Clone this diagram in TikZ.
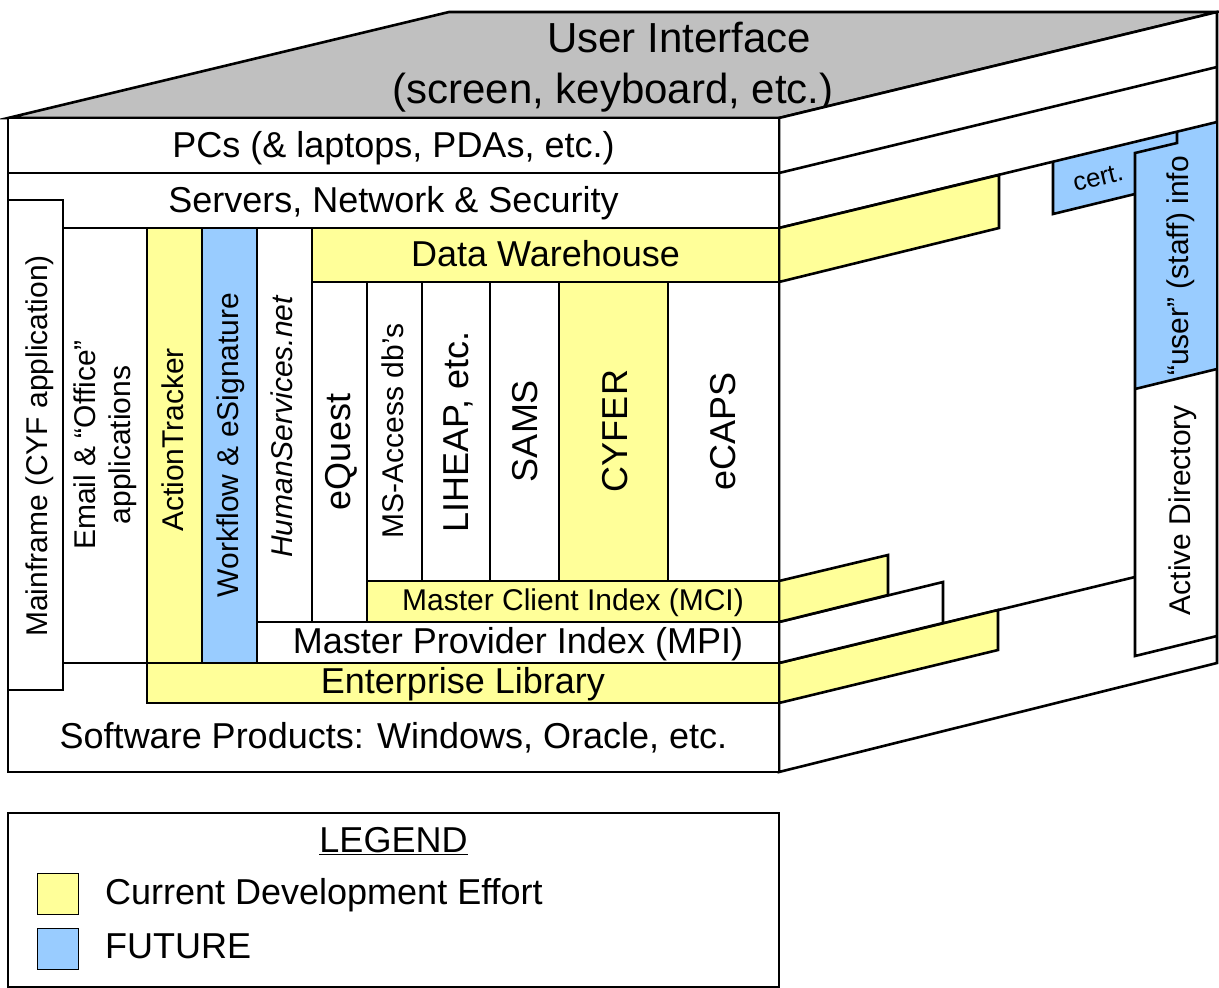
\documentclass[tikz,border=0pt]{standalone}
\usepackage{fontspec}
\setmainfont{Liberation Sans}
\definecolor{yel}{HTML}{FFFF99}
\definecolor{blu}{HTML}{99CCFF}
\definecolor{gry}{HTML}{C0C0C0}
\begin{document}
\begin{tikzpicture}[x=1pt,y=-1pt,
  ln/.style={line width=2.6pt, line join=miter},
  big/.style={font=\fontsize{36}{43}\selectfont, inner sep=0pt, anchor=base},
  mid/.style={font=\fontsize{30}{36}\selectfont, inner sep=0pt, anchor=base},
  vt/.style={font=\fontsize{30}{36}\selectfont, inner sep=0pt, rotate=90, anchor=base},
  vtb/.style={font=\fontsize{36}{43}\selectfont, inner sep=0pt, rotate=90, anchor=base},
  swatch/.style={line width=1pt}
]
\useasboundingbox (0,0) rectangle (1219,988);

% ---------- top face ----------
\draw[ln, fill=gry] (8,118) -- (449,12) -- (1217,12) -- (779,118) -- cycle;
\node[font=\fontsize{42}{50}\selectfont, inner sep=0pt, anchor=base] (ui1) at (679,52) {User Interface};
\node[font=\fontsize{42}{50}\selectfont, inner sep=0pt, anchor=base] (ui2) at (613,103) {(screen, keyboard, etc.)};

% ---------- side face ----------
\draw[ln, fill=white] (779,118) -- (1217,12) -- (1217,663) -- (779,772) -- cycle;
\draw[ln] (779,173) -- (1217,67);
\fill[blu] (1053,161) -- (1217,122) -- (1217,369) -- (1135,389) -- (1135,194) -- (1053,214) -- cycle;
\draw[ln] (779,228) -- (1217,122);
\draw[ln] (1053,161) -- (1053,214) -- (1135,194);
\draw[ln] (1177,131) -- (1177,143) -- (1135,153) -- (1135,656) -- (1217,636);
\draw[ln] (1135,389) -- (1217,369);
\draw[ln] (1217,12) -- (1217,663);
\draw[ln, fill=yel] (779,228) -- (999,175) -- (999,228) -- (779,282) -- cycle;
\draw[ln] (779,663) -- (1135,577);
\draw[ln, fill=yel] (779,663) -- (998,610) -- (998,650) -- (779,703) -- cycle;
\draw[ln, fill=white] (779,622) -- (943,582) -- (943,623) -- (779,663) -- cycle;
\draw[ln, fill=yel] (779,581) -- (888,555) -- (888,595) -- (779,622) -- cycle;

\node[font=\fontsize{26}{30}\selectfont, inner sep=0pt, rotate=13.6] (cert) at (1098,178) {cert.};
\node[vt] (user) at (1188,266) {“user” (staff) info};
\node[vt] (ad) at (1190,510) {Active Directory};

% ---------- front face ----------
\draw[ln, fill=white] (8,118) rectangle (779,772);
\draw[ln] (8,173) -- (779,173);
\draw[ln] (8,228) -- (779,228);
\draw[ln, fill=yel] (312,228) rectangle (779,282);
\draw[ln, fill=yel] (147,228) rectangle (202,663);
\draw[ln, fill=blu] (202,228) rectangle (257,663);
\draw[ln, fill=white] (257,228) rectangle (312,622);
\draw[ln, fill=white] (312,282) rectangle (367,622);
\draw[ln, fill=white] (367,282) rectangle (422,581);
\draw[ln, fill=white] (422,282) rectangle (490,581);
\draw[ln, fill=white] (490,282) rectangle (559,581);
\draw[ln, fill=yel] (559,282) rectangle (668,581);
\draw[ln, fill=white] (668,282) rectangle (779,581);
\draw[ln, fill=yel] (367,581) rectangle (779,622);
\draw[ln, fill=white] (257,622) rectangle (779,663);
\draw[ln, fill=yel] (147,663) rectangle (779,703);
\draw[ln] (63,663) -- (147,663);
\draw[ln, fill=white] (8,200) rectangle (63,690);

\node[big] (pcs) at (393.5,157) {PCs (\& laptops, PDAs, etc.)};
\node[big] (srv) at (393.5,212) {Servers, Network \& Security};
\node[big] (dw) at (545.5,266) {Data Warehouse};
\node[mid] (mci) at (573,610) {Master Client Index (MCI)};
\node[big] (mpi) at (518,653) {Master Provider Index (MPI)};
\node[big] (el) at (463,693) {Enterprise Library};
\node[big] (sw) at (393.5,748) {Software Products: Windows, Oracle, etc.};

\node[vt] (mf) at (47,446) {Mainframe (CYF application)};
\node[font=\fontsize{30}{35}\selectfont, inner sep=0pt, rotate=90, align=center] (email) at (105,445) {Email \& “Office”\\applications};
\node[vt] (at) at (183,440) {ActionTracker};
\node[vt] (wf) at (238,445) {Workflow \& eSignature};
\node[vt, font=\fontsize{30}{36}\selectfont\itshape] (hs) at (292,427) {HumanServices.net};
\node[vtb] (eq) at (350,452) {eQuest};
\node[vt] (msa) at (403,431) {MS-Access db’s};
\node[vtb] (lih) at (468,432) {LIHEAP, etc.};
\node[vtb] (sams) at (537,431) {SAMS};
\node[vtb] (cyfer) at (627,431) {CYFER};
\node[vtb] (ecaps) at (735,431) {eCAPS};

% ---------- legend ----------
\draw[ln] (8,813) rectangle (779,987);
\node[big] (leg) at (393.5,852) {\underline{LEGEND}};
\draw[swatch, fill=yel] (37,873) rectangle (78,914);
\draw[swatch, fill=blu] (37,928) rectangle (78,969);
\node[big, anchor=base west] (cur) at (105,904) {Current Development Effort};
\node[big, anchor=base west] (fut) at (105,958) {FUTURE};
\end{tikzpicture}
\end{document}
